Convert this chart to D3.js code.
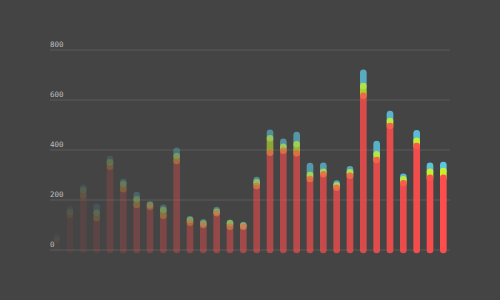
<!DOCTYPE html>
<html>
<head>
<meta charset="utf-8">
<script src="https://cdn.jsdelivr.net/npm/d3@7"></script>
<style>
  html, body { margin: 0; padding: 0; background: #444444; }
  svg { display: block; }
</style>
</head>
<body>
<svg id="chart" width="500" height="300"></svg>
<script>
const categories = d3.range(1, 31).map(String);
const redValues    = [40, 140, 217, 127, 333, 243, 180, 173, 137, 356, 109, 100, 147, 93, 93, 256, 389, 397, 387, 284, 303, 249, 297, 617, 360, 496, 267, 416, 289, 289];
const yellowValues = [6, 13, 23, 22, 18, 21, 23, 7, 23, 20, 11, 6, 6, 14, 4, 15, 58, 16, 36, 16, 10, 9, 14, 39, 23, 20, 16, 21, 24, 27];
const blueValues   = [7, 11, 9, 24, 13, 9, 17, 3, 9, 21, 4, 5, 7, 2, 3, 9, 22, 20, 37, 36, 24, 8, 12, 53, 41, 28, 10, 30, 24, 24];
const tickValues = [0, 200, 400, 600, 800];
const seriesNames = ["red", "yellow", "blue"];
const seriesColors = ["#ff4d4d", "#c9f02b", "#5ec5e0"];

const svg = d3.select("#chart");
svg.append("rect").attr("width", 500).attr("height", 300).attr("fill", "#444444");

const x = d3.scaleBand().domain(categories).range([50, 450]).padding(0);
const y = d3.scaleLinear().domain([0, 800]).range([250, 50]);
const opacity = d3.scaleLinear().domain([0, categories.length - 1]).range([1 / 30, 1]);

// gridlines + labels
const grid = svg.append("g");
grid.selectAll("line").data(tickValues).join("line")
  .attr("x1", 50).attr("x2", 450)
  .attr("y1", d => y(d)).attr("y2", d => y(d))
  .attr("stroke", "#535353").attr("stroke-width", 1.5);
grid.selectAll("text").data(tickValues).join("text")
  .attr("x", 50).attr("y", d => y(d) - 3)
  .attr("fill", "#bdbdbd")
  .attr("font-family", "DejaVu Sans Mono, monospace")
  .attr("font-size", 7.5)
  .text(d => d);

// stacked data
const rows = categories.map((c, i) => ({ cat: c, red: redValues[i], yellow: yellowValues[i], blue: blueValues[i] }));
const stack = d3.stack().keys(seriesNames)(rows);
const bw = x.bandwidth() * 0.5;

const bars = svg.append("g").selectAll("g").data(categories).join("g");
bars.each(function(c, i) {
  const g = d3.select(this);
  // draw top series first so lower series sit on top
  for (let s = stack.length - 1; s >= 0; s--) {
    const seg = stack[s][i];
    g.append("line")
      .attr("x1", x(c) + x.bandwidth() / 2)
      .attr("x2", x(c) + x.bandwidth() / 2)
      .attr("y1", y(seg[0]))
      .attr("y2", y(seg[1]))
      .attr("stroke", seriesColors[s])
      .attr("stroke-width", bw)
      .attr("stroke-linecap", "round")
      .attr("stroke-opacity", opacity(i));
  }
});
</script>
</body>
</html>
